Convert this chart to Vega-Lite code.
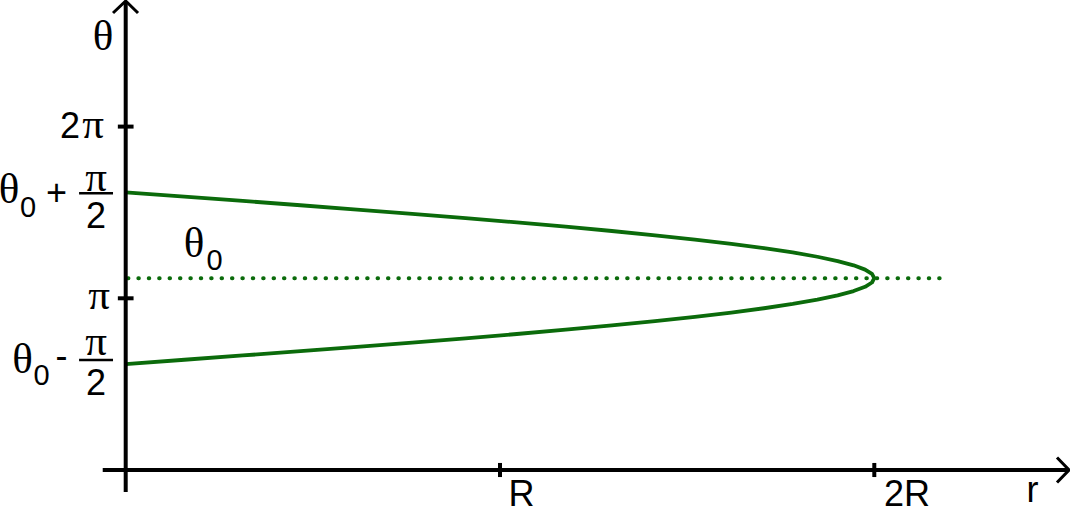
{
  "$schema": "https://vega.github.io/schema/vega-lite/v6.json",
  "width": 1070,
  "height": 509,
  "autosize": {"type": "none"},
  "padding": 0,
  "background": "white",
  "config": {"view": {"stroke": null}},
  "datasets": {
    "axes": [
      {"x": -0.0614, "y": 0, "x2": 2.515, "y2": 0},
      {"x": 0, "y": -0.1281, "x2": 0, "y2": 2.726},
      {"x": 1, "y": -0.041, "x2": 1, "y2": 0.041},
      {"x": 2, "y": -0.041, "x2": 2, "y2": 0.041},
      {"x": -0.021, "y": 1, "x2": 0.021, "y2": 1},
      {"x": -0.021, "y": 2, "x2": 0.021, "y2": 2}
    ],
    "arrows": [
      {"g": "r", "i": 0, "x": 2.4881, "y": 0.0728},
      {"g": "r", "i": 1, "x": 2.5202, "y": 0},
      {"g": "r", "i": 2, "x": 2.4881, "y": -0.0728},
      {"g": "t", "i": 0, "x": -0.0339, "y": 2.6616},
      {"g": "t", "i": 1, "x": 0, "y": 2.7315},
      {"g": "t", "i": 2, "x": 0.0329, "y": 2.6616}
    ],
    "bars": [
      {"x": -0.1246, "y": 1.6115, "x2": -0.0339, "y2": 1.6115},
      {"x": -0.1246, "y": 0.6407, "x2": -0.0339, "y2": 0.6407}
    ],
    "dotted": [
      {"x": 0.006, "y": 1.117, "x2": 2.175, "y2": 1.117}
    ],
    "curve": [
      {"x": 0.0, "y": 0.617},
      {"x": 0.1569, "y": 0.642},
      {"x": 0.3129, "y": 0.667},
      {"x": 0.4669, "y": 0.692},
      {"x": 0.6180, "y": 0.717},
      {"x": 0.7654, "y": 0.742},
      {"x": 0.9080, "y": 0.767},
      {"x": 1.0450, "y": 0.792},
      {"x": 1.1756, "y": 0.817},
      {"x": 1.2989, "y": 0.842},
      {"x": 1.4142, "y": 0.867},
      {"x": 1.5208, "y": 0.892},
      {"x": 1.6180, "y": 0.917},
      {"x": 1.7053, "y": 0.942},
      {"x": 1.7820, "y": 0.967},
      {"x": 1.8478, "y": 0.992},
      {"x": 1.9021, "y": 1.017},
      {"x": 1.9447, "y": 1.042},
      {"x": 1.9754, "y": 1.067},
      {"x": 1.9938, "y": 1.092},
      {"x": 2.0, "y": 1.117},
      {"x": 1.9938, "y": 1.142},
      {"x": 1.9754, "y": 1.167},
      {"x": 1.9447, "y": 1.192},
      {"x": 1.9021, "y": 1.217},
      {"x": 1.8478, "y": 1.242},
      {"x": 1.7820, "y": 1.267},
      {"x": 1.7053, "y": 1.292},
      {"x": 1.6180, "y": 1.317},
      {"x": 1.5208, "y": 1.342},
      {"x": 1.4142, "y": 1.367},
      {"x": 1.2989, "y": 1.392},
      {"x": 1.1756, "y": 1.417},
      {"x": 1.0450, "y": 1.442},
      {"x": 0.9080, "y": 1.467},
      {"x": 0.7654, "y": 1.492},
      {"x": 0.6180, "y": 1.517},
      {"x": 0.4669, "y": 1.542},
      {"x": 0.3129, "y": 1.567},
      {"x": 0.1569, "y": 1.592},
      {"x": 0.0, "y": 1.617}
    ],
    "greek": [
      {"t": "θ", "x": -0.0606, "y": 2.4461},
      {"t": "π", "x": -0.0873, "y": 1.9336},
      {"t": "θ", "x": -0.3118, "y": 1.555},
      {"t": "π", "x": -0.0793, "y": 1.6249},
      {"t": "θ", "x": 0.1825, "y": 1.2405},
      {"t": "π", "x": -0.0711, "y": 0.9377},
      {"t": "θ", "x": -0.2757, "y": 0.5649},
      {"t": "π", "x": -0.0793, "y": 0.6698}
    ],
    "latin": [
      {"t": "2", "x": -0.1488, "y": 1.9336},
      {"t": "+", "x": -0.1849, "y": 1.5434},
      {"t": "2", "x": -0.0793, "y": 1.4095},
      {"t": "-", "x": -0.1715, "y": 0.5941},
      {"t": "2", "x": -0.0793, "y": 0.4368},
      {"t": "R", "x": 1.0574, "y": -0.2096},
      {"t": "2R", "x": 2.0873, "y": -0.2096},
      {"t": "r", "x": 2.4226, "y": -0.1863}
    ],
    "subs": [
      {"t": "0", "x": -0.261, "y": 1.4735},
      {"t": "0", "x": 0.2372, "y": 1.1648},
      {"t": "0", "x": -0.225, "y": 0.495}
    ]
  },
  "encoding": {
    "x": {"field": "x", "type": "quantitative", "axis": null,
          "scale": {"domain": [-0.33583, 2.52284], "nice": false, "zero": false}},
    "y": {"field": "y", "type": "quantitative", "axis": null,
          "scale": {"domain": [-0.22714, 2.73733], "nice": false, "zero": false}}
  },
  "layer": [
    {
      "data": {"name": "dotted"},
      "mark": {"type": "rule", "color": "#0b6b0b", "strokeWidth": 4, "strokeDash": [0.5, 9.9], "strokeCap": "round"},
      "encoding": {"x2": {"field": "x2"}, "y2": {"field": "y2"}}
    },
    {
      "data": {"name": "curve"},
      "mark": {"type": "line", "color": "#0b6b0b", "strokeWidth": 3.8, "strokeJoin": "round"},
      "encoding": {"order": {"field": "y", "type": "quantitative"}}
    },
    {
      "data": {"name": "axes"},
      "mark": {"type": "rule", "color": "black", "strokeWidth": 4},
      "encoding": {"x2": {"field": "x2"}, "y2": {"field": "y2"}}
    },
    {
      "data": {"name": "arrows"},
      "mark": {"type": "line", "color": "black", "strokeWidth": 3, "strokeJoin": "miter"},
      "encoding": {"detail": {"field": "g"}, "order": {"field": "i", "type": "quantitative"}}
    },
    {
      "data": {"name": "bars"},
      "mark": {"type": "rule", "color": "black", "strokeWidth": 2.5},
      "encoding": {"x2": {"field": "x2"}, "y2": {"field": "y2"}}
    },
    {
      "data": {"name": "greek"},
      "mark": {"type": "text", "font": "Liberation Serif", "fontSize": 43, "align": "center", "baseline": "alphabetic", "color": "black"},
      "encoding": {"text": {"field": "t"}}
    },
    {
      "data": {"name": "latin"},
      "mark": {"type": "text", "font": "Liberation Sans", "fontSize": 36, "align": "center", "baseline": "alphabetic", "color": "black"},
      "encoding": {"text": {"field": "t"}}
    },
    {
      "data": {"name": "subs"},
      "mark": {"type": "text", "font": "Liberation Sans", "fontSize": 29, "align": "center", "baseline": "alphabetic", "color": "black"},
      "encoding": {"text": {"field": "t"}}
    }
  ]
}
